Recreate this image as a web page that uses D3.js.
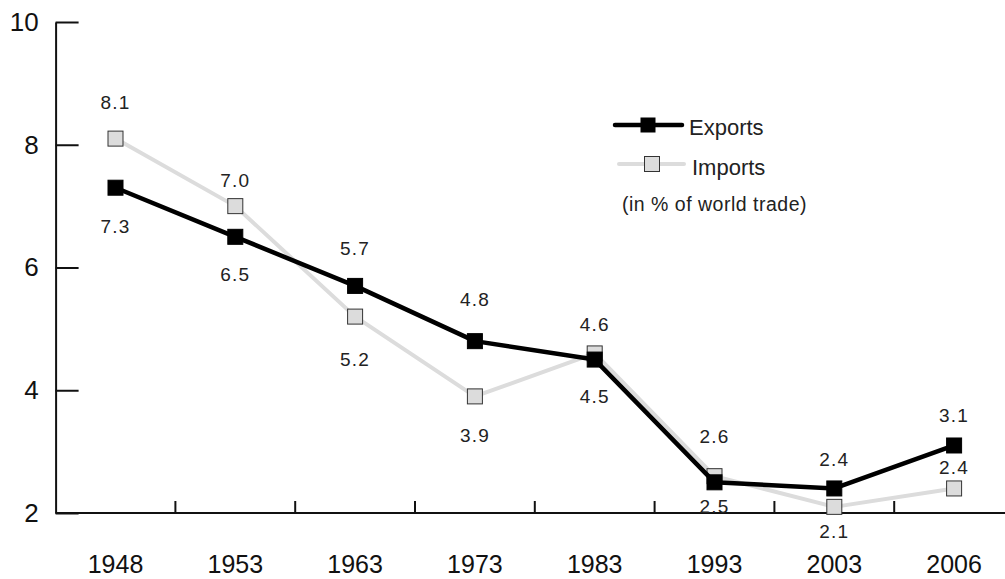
<!DOCTYPE html>
<html>
<head>
<meta charset="utf-8">
<script src="https://cdn.jsdelivr.net/npm/d3@7"></script>
<style>
  body { margin: 0; background: #fff; }
  svg { display: block; font-family: "Liberation Sans", Arial, Helvetica, sans-serif; }
</style>
</head>
<body>
<svg id="graph" width="1005" height="579"></svg>
<script>
/*
 * Exports and imports as a share of world trade, 1948-2006
 */

// Data
var years = ["1948", "1953", "1963", "1973", "1983", "1993", "2003", "2006"];
var exportsVals = [7.3, 6.5, 5.7, 4.8, 4.5, 2.5, 2.4, 3.1];
var importsVals = [8.1, 7.0, 5.2, 3.9, 4.6, 2.6, 2.1, 2.4];
var yTicks = [2, 4, 6, 8, 10];

// Where each value label sits relative to its point (baseline offset, px)
var exportsLabelDy = [45, 44, -31, -35, 43, 31, -22, -23];
var importsLabelDy = [-30, -19, 49, 46, -22, -33, 31, -14];

var svg = d3.select("#graph"),
    width = +svg.attr("width"),
    height = +svg.attr("height");

// Scales
var xScale = d3.scaleBand().domain(years).range([55.6, 55.6 + 8 * 119.8]);
var yScale = d3.scaleLinear().domain([2, 10]).range([513, 22]);
var xMid = d => xScale(d) + xScale.bandwidth() / 2;

// Y axis, ticks pointing inwards
var yAxis = d3.axisLeft(yScale).tickValues(yTicks).tickSizeInner(-23).tickSizeOuter(0).tickPadding(17);
var gy = svg.append("g").attr("transform", "translate(55.6,0)").call(yAxis);
gy.selectAll("path, line").attr("stroke", "#111").attr("stroke-width", 2);
gy.selectAll("text").attr("font-size", 26).attr("fill", "#111").attr("font-family", null);

// X axis: labels at band centres, ticks at band boundaries
var xAxis = d3.axisBottom(xScale).tickSize(0).tickPadding(42);
var gx = svg.append("g").attr("transform", "translate(0,513)").call(xAxis);
gx.select("path").attr("stroke", "#111").attr("stroke-width", 2).attr("d", "M55.6,0H" + width);
gx.selectAll("text").attr("font-size", 25).attr("fill", "#111").attr("font-family", null);
gx.selectAll(".bound").data(years.slice(1)).enter().append("line")
    .attr("class", "bound")
    .attr("x1", d => xScale(d)).attr("x2", d => xScale(d))
    .attr("y1", 0).attr("y2", -12)
    .attr("stroke", "#111").attr("stroke-width", 2);

var line = d3.line().x(d => xMid(d[0])).y(d => yScale(d[1]));

function drawSeries(vals, lineColor, lineWidth, markFill, markStroke, markSize) {
    var pts = years.map((y, i) => [y, vals[i]]);
    svg.append("path").datum(pts)
        .attr("fill", "none")
        .attr("stroke", lineColor)
        .attr("stroke-width", lineWidth)
        .attr("stroke-linejoin", "round")
        .attr("d", line);
    svg.append("g").selectAll("rect").data(pts).enter().append("rect")
        .attr("x", d => xMid(d[0]) - markSize / 2)
        .attr("y", d => yScale(d[1]) - markSize / 2)
        .attr("width", markSize).attr("height", markSize)
        .attr("fill", markFill)
        .attr("stroke", markStroke)
        .attr("stroke-width", 1);
}

function drawLabels(vals, dys) {
    svg.append("g").selectAll("text").data(vals).enter().append("text")
        .attr("x", (d, i) => xMid(years[i]))
        .attr("y", (d, i) => yScale(d) + dys[i])
        .attr("text-anchor", "middle")
        .attr("font-size", 19)
        .attr("letter-spacing", 1.2)
        .attr("fill", "#222")
        .text(d => d.toFixed(1));
}

// Imports under exports
drawSeries(importsVals, "#dcdcdc", 4, "#dcdcdc", "#333", 15);
drawSeries(exportsVals, "#000", 4.5, "#000", "#000", 15);
drawLabels(importsVals, importsLabelDy);
drawLabels(exportsVals, exportsLabelDy);

// Legend
var legend = svg.append("g");
legend.append("line").attr("x1", 615).attr("x2", 682).attr("y1", 125).attr("y2", 125)
    .attr("stroke", "#000").attr("stroke-width", 4.5).attr("stroke-linecap", "round");
legend.append("rect").attr("x", 640.5).attr("y", 117.5).attr("width", 15).attr("height", 15)
    .attr("fill", "#000");
legend.append("text").attr("x", 689).attr("y", 135).attr("font-size", 22).attr("fill", "#222").text("Exports");

legend.append("line").attr("x1", 619).attr("x2", 684).attr("y1", 164).attr("y2", 164)
    .attr("stroke", "#dcdcdc").attr("stroke-width", 4).attr("stroke-linecap", "round");
legend.append("rect").attr("x", 644.5).attr("y", 156.5).attr("width", 15).attr("height", 15)
    .attr("fill", "#dcdcdc").attr("stroke", "#333").attr("stroke-width", 1);
legend.append("text").attr("x", 692).attr("y", 175).attr("font-size", 22).attr("fill", "#222").text("Imports");

legend.append("text").attr("x", 622).attr("y", 211).attr("font-size", 19.5).attr("letter-spacing", 0.5)
    .attr("fill", "#222").text("(in % of world trade)");
</script>
</body>
</html>
